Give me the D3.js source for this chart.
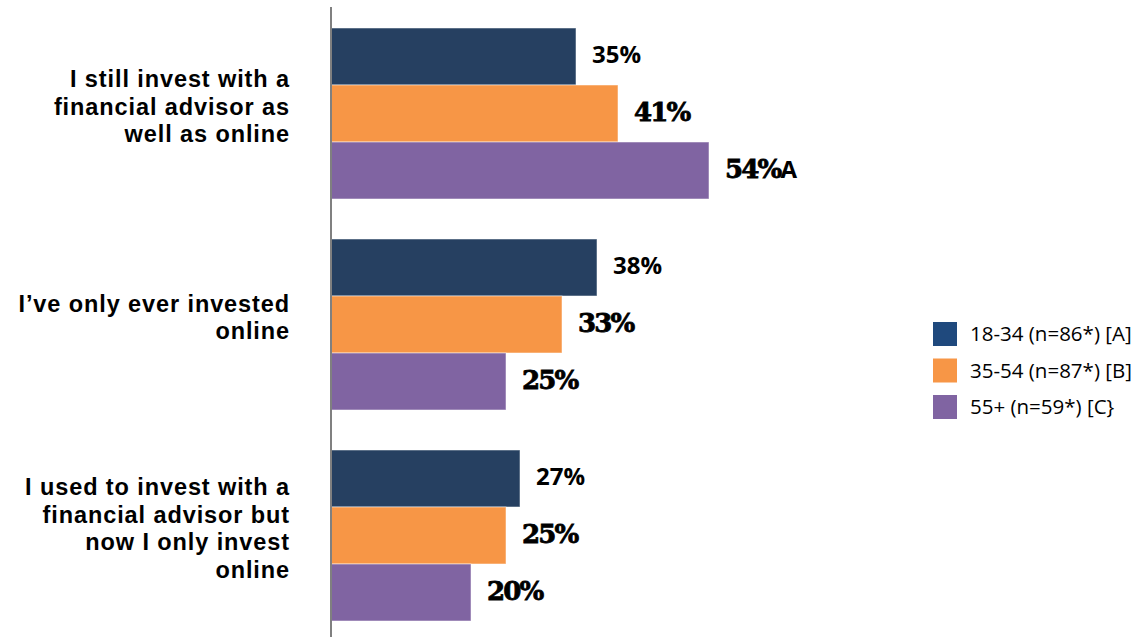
<!DOCTYPE html>
<html>
<head>
<meta charset="utf-8">
<script src="https://cdn.jsdelivr.net/npm/d3@7"></script>
<style>
  html, body { margin: 0; padding: 0; background: #fff; }
  svg { display: block; }
</style>
</head>
<body>
<svg id="chart" width="1141" height="637"></svg>
<script>
// Survey responses by age group (share of respondents, %)
const categories = [
  ["I still invest with a", "financial advisor as", "well as online"],
  ["I\u2019ve only ever invested", "online"],
  ["I used to invest with a", "financial advisor but", "now I only invest", "online"]
];
const seriesNames = ["18-34 (n=86*) [A]", "35-54 (n=87*) [B]", "55+ (n=59*) [C}"];
const seriesA = [35, 38, 27];
const seriesB = [41, 33, 25];
const seriesC = [54, 25, 20];
// significance letters shown after a value
const sigA = ["", "", ""];
const sigB = ["", "", ""];
const sigC = ["A", "", ""];

const seriesValues = [seriesA, seriesB, seriesC];
const seriesSig = [sigA, sigB, sigC];
const barColors = ["#264061", "#F79646", "#8064A2"];
const legendColors = ["#1F497D", "#F79646", "#8064A2"];

const sansFont = "'Open Sans', Lato, sans-serif";
const labelFont = "'Liberation Sans', Arial, sans-serif";
const serifFont = "'DejaVu Serif', serif";

const svg = d3.select("#chart");

const x = d3.scaleLinear().domain([0, 100]).range([331, 1031]);
// each category occupies a 211 px slot: 171 px of bars + 40 px gap
const groupY = d3.scaleBand().domain(d3.range(categories.length)).range([28, 28 + 211 * 3]).padding(0);
const inner = d3.scaleBand().domain(d3.range(seriesValues.length)).range([0, 171]);

categories.forEach((cat, ci) => {
  const g = svg.append("g").attr("transform", `translate(0,${groupY(ci)})`);
  seriesValues.forEach((vals, si) => {
    g.append("rect")
      .attr("x", x(0))
      .attr("y", inner(si))
      .attr("width", x(vals[ci]) - x(0))
      .attr("height", inner.bandwidth())
      .attr("fill", barColors[si])
      .attr("stroke", "#ffffff")
      .attr("stroke-opacity", 0.5)
      .attr("stroke-width", 1);

    // value label; the first series uses a plain sans face
    const t = g.append("text")
      .attr("x", x(vals[ci]) + 16)
      .attr("y", inner(si) + inner.bandwidth() / 2)
      .attr("dy", si === 0 ? "0.42em" : "0.44em")
      .attr("fill", "#000");
    t.append("tspan")
      .attr("font-family", si === 0 ? sansFont : serifFont)
      .attr("font-weight", 700)
      .attr("font-size", si === 0 ? 24 : 26)
      .attr("letter-spacing", si === 0 ? 0 : -1.8)
      .attr("stroke", si === 0 ? "none" : "#000")
      .attr("stroke-width", si === 0 ? 0 : 0.8)
      .text(vals[ci] + "%");
    if (seriesSig[si][ci]) {
      t.append("tspan")
        .attr("font-family", sansFont)
        .attr("font-weight", 700)
        .attr("font-size", 24)
        .text(seriesSig[si][ci]);
    }
  });

  // Category label, right-aligned next to the axis
  const lineH = 27.6;
  const center = groupY(ci) + 171 / 2;
  const firstBase = center + 1 - (cat.length - 1) * lineH / 2;
  cat.forEach((line, li) => {
    svg.append("text")
      .attr("x", 290)
      .attr("y", firstBase + li * lineH)
      .attr("text-anchor", "end")
      .attr("font-family", labelFont)
      .attr("font-weight", 700)
      .attr("font-size", 23.5)
      .attr("letter-spacing", 0.9)
      .attr("fill", "#000")
      .text(line);
  });
});

// Vertical axis line
svg.append("line")
  .attr("x1", x(0)).attr("x2", x(0))
  .attr("y1", 7).attr("y2", 637)
  .attr("stroke", "#808080")
  .attr("stroke-width", 2);

// Legend
const legend = svg.append("g").attr("transform", "translate(933,322)");
seriesNames.forEach((name, i) => {
  const row = legend.append("g").attr("transform", `translate(0,${i * 36.5})`);
  row.append("rect").attr("width", 24).attr("height", 24).attr("fill", legendColors[i]);
  row.append("text")
    .attr("x", 37).attr("y", 12).attr("dy", "0.36em")
    .attr("font-family", sansFont)
    .attr("font-size", 20.5)
    .attr("fill", "#000")
    .text(name);
});
</script>
</body>
</html>
